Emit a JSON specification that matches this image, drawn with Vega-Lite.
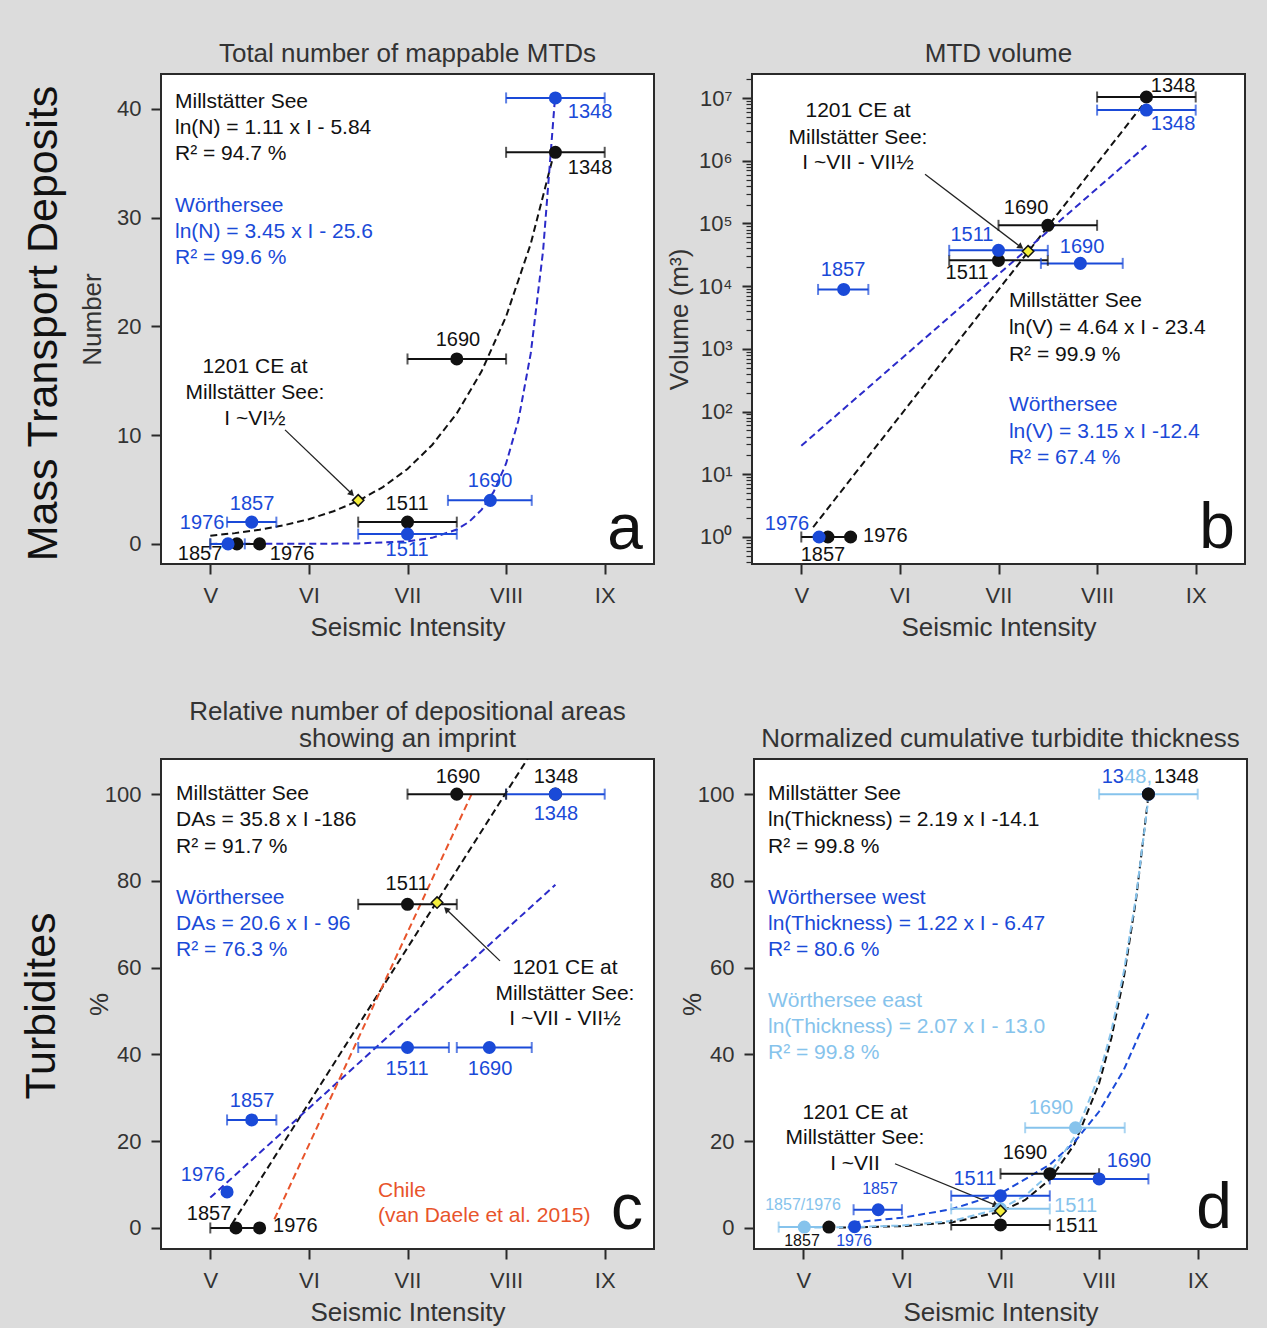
{
"$schema": "https://vega.github.io/schema/vega-lite/v6.json",
"background": "#dcdcdc",
"padding": {"left": 21, "top": 40, "right": 19, "bottom": 3},
"config": {
  "font": "Liberation Sans",
  "view": {"stroke": "#2a2a2a", "strokeWidth": 2, "fill": "#ffffff"},
  "axis": {"domain": false, "grid": false, "tickSize": 10, "tickWidth": 2, "tickColor": "#2a2a2a", "labelFontSize": 22, "labelColor": "#333333", "titleFontSize": 26, "titleFontWeight": "normal", "titleColor": "#333333", "labelFont": "Liberation Sans", "titleFont": "Liberation Sans"},
  "axisX": {"labelPadding": 11, "titlePadding": 8},
  "axisY": {"labelPadding": 10},
  "title": {"font": "Liberation Sans", "fontSize": 26, "fontWeight": "normal", "color": "#333333", "baseline": "bottom", "lineHeight": 27, "offset": 7}
},
"datasets": {
  "pts": [
    {"p":"a","s":"M","yr":"1348","I":8.5,"v":36,"lo":8,"hi":9},
    {"p":"a","s":"M","yr":"1690","I":7.5,"v":17,"lo":7,"hi":8},
    {"p":"a","s":"M","yr":"1511","I":7.0,"v":2,"lo":6.5,"hi":7.5},
    {"p":"a","s":"M","yr":"1857","I":5.27,"v":0,"lo":5.0,"hi":5.5},
    {"p":"a","s":"M","yr":"1976","I":5.5,"v":0},
    {"p":"a","s":"W","yr":"1348","I":8.5,"v":41,"lo":8,"hi":9},
    {"p":"a","s":"W","yr":"1690","I":7.84,"v":4,"lo":7.41,"hi":8.26},
    {"p":"a","s":"W","yr":"1511","I":7.0,"v":0.9,"lo":6.5,"hi":7.5},
    {"p":"a","s":"W","yr":"1857","I":5.42,"v":2,"lo":5.17,"hi":5.67},
    {"p":"a","s":"W","yr":"1976","I":5.18,"v":0,"lo":5.0,"hi":5.35},
    {"p":"b","s":"M","yr":"1348","I":8.5,"v":10400000,"lo":8,"hi":9},
    {"p":"b","s":"M","yr":"1690","I":7.5,"v":93500,"lo":7,"hi":8},
    {"p":"b","s":"M","yr":"1511","I":7.0,"v":25800,"lo":6.5,"hi":7.5},
    {"p":"b","s":"M","yr":"1857","I":5.27,"v":1,"lo":5.0,"hi":5.5},
    {"p":"b","s":"M","yr":"1976","I":5.5,"v":1},
    {"p":"b","s":"W","yr":"1348","I":8.5,"v":6430000,"lo":8,"hi":9},
    {"p":"b","s":"W","yr":"1690","I":7.83,"v":23100,"lo":7.43,"hi":8.26},
    {"p":"b","s":"W","yr":"1511","I":7.0,"v":37300,"lo":6.5,"hi":7.5},
    {"p":"b","s":"W","yr":"1857","I":5.43,"v":8870,"lo":5.17,"hi":5.68},
    {"p":"b","s":"W","yr":"1976","I":5.18,"v":1},
    {"p":"c","s":"M","yr":"1690","I":7.5,"v":100,"lo":7,"hi":8},
    {"p":"c","s":"M","yr":"1348","I":8.5,"v":100},
    {"p":"c","s":"M","yr":"1511","I":7.0,"v":74.6,"lo":6.5,"hi":7.5},
    {"p":"c","s":"M","yr":"1857","I":5.26,"v":0,"lo":5.0,"hi":5.5},
    {"p":"c","s":"M","yr":"1976","I":5.5,"v":0},
    {"p":"c","s":"W","yr":"1348","I":8.5,"v":100,"lo":8,"hi":9},
    {"p":"c","s":"W","yr":"1511","I":7.0,"v":41.6,"lo":6.5,"hi":7.42},
    {"p":"c","s":"W","yr":"1690","I":7.83,"v":41.6,"lo":7.5,"hi":8.26},
    {"p":"c","s":"W","yr":"1857","I":5.42,"v":24.9,"lo":5.17,"hi":5.67},
    {"p":"c","s":"W","yr":"1976","I":5.17,"v":8.3},
    {"p":"d","s":"E","yr":"1348","I":8.5,"v":100,"lo":8,"hi":9},
    {"p":"d","s":"E","yr":"1690","I":7.76,"v":23.1,"lo":7.25,"hi":8.26},
    {"p":"d","s":"E","yr":"1511","I":7.0,"v":4.4,"lo":6.5,"hi":7.5},
    {"p":"d","s":"E","yr":"1857/1976","I":5.01,"v":0.2,"lo":4.75,"hi":5.25},
    {"p":"d","s":"W","yr":"1348","I":8.5,"v":100},
    {"p":"d","s":"W","yr":"1690","I":8.0,"v":11.3,"lo":7.5,"hi":8.5},
    {"p":"d","s":"W","yr":"1511","I":7.0,"v":7.4,"lo":6.5,"hi":7.5},
    {"p":"d","s":"W","yr":"1857","I":5.76,"v":4.2,"lo":5.51,"hi":6.0},
    {"p":"d","s":"W","yr":"1976","I":5.52,"v":0.3},
    {"p":"d","s":"M","yr":"1348","I":8.5,"v":100},
    {"p":"d","s":"M","yr":"1690","I":7.5,"v":12.5,"lo":7,"hi":8},
    {"p":"d","s":"M","yr":"1511","I":7.0,"v":0.7,"lo":6.5,"hi":7.5},
    {"p":"d","s":"M","yr":"1857","I":5.26,"v":0.2}
  ],
  "fit": [
    {"p":"a","s":"M","I":5.0,"v":0.748},{"p":"a","s":"M","I":5.25,"v":0.988},{"p":"a","s":"M","I":5.5,"v":1.303},{"p":"a","s":"M","I":5.75,"v":1.72},{"p":"a","s":"M","I":6.0,"v":2.27},{"p":"a","s":"M","I":6.25,"v":2.997},{"p":"a","s":"M","I":6.5,"v":3.955},{"p":"a","s":"M","I":6.75,"v":5.22},{"p":"a","s":"M","I":7.0,"v":6.89},{"p":"a","s":"M","I":7.25,"v":9.093},{"p":"a","s":"M","I":7.5,"v":12.0},{"p":"a","s":"M","I":7.75,"v":15.84},{"p":"a","s":"M","I":8.0,"v":20.91},{"p":"a","s":"M","I":8.25,"v":27.59},{"p":"a","s":"M","I":8.5,"v":36.42},
    {"p":"a","s":"L","I":5.0,"v":0.0002},{"p":"a","s":"L","I":5.5,"v":0.0013},{"p":"a","s":"L","I":6.0,"v":0.0075},{"p":"a","s":"L","I":6.5,"v":0.042},{"p":"a","s":"L","I":7.0,"v":0.235},{"p":"a","s":"L","I":7.25,"v":0.556},{"p":"a","s":"L","I":7.5,"v":1.317},{"p":"a","s":"L","I":7.625,"v":2.03},{"p":"a","s":"L","I":7.75,"v":3.119},{"p":"a","s":"L","I":7.875,"v":4.8},{"p":"a","s":"L","I":8.0,"v":7.389},{"p":"a","s":"L","I":8.125,"v":11.37},{"p":"a","s":"L","I":8.25,"v":17.51},{"p":"a","s":"L","I":8.375,"v":26.94},{"p":"a","s":"L","I":8.5,"v":41.47},
    {"p":"b","s":"M","I":5.12,"v":1.43},{"p":"b","s":"M","I":8.5,"v":9230000},
    {"p":"b","s":"L","I":5.0,"v":28.5},{"p":"b","s":"L","I":8.5,"v":1750000},
    {"p":"c","s":"M","I":5.22,"v":0.9},{"p":"c","s":"M","I":8.3,"v":111.1},
    {"p":"c","s":"L","I":5.0,"v":7.0},{"p":"c","s":"L","I":8.5,"v":79.1},
    {"p":"c","s":"C","I":5.65,"v":2.0},{"p":"c","s":"C","I":7.65,"v":100},
    {"p":"d","s":"M","I":5.25,"v":0.08},{"p":"d","s":"M","I":5.5,"v":0.14},{"p":"d","s":"M","I":6.0,"v":0.42},{"p":"d","s":"M","I":6.5,"v":1.25},{"p":"d","s":"M","I":7.0,"v":3.73},{"p":"d","s":"M","I":7.25,"v":6.45},{"p":"d","s":"M","I":7.5,"v":11.15},{"p":"d","s":"M","I":7.75,"v":19.3},{"p":"d","s":"M","I":8.0,"v":33.3},{"p":"d","s":"M","I":8.125,"v":43.8},{"p":"d","s":"M","I":8.25,"v":57.6},{"p":"d","s":"M","I":8.375,"v":75.8},{"p":"d","s":"M","I":8.5,"v":99.6},
    {"p":"d","s":"W","I":5.5,"v":1.27},{"p":"d","s":"W","I":6.0,"v":2.34},{"p":"d","s":"W","I":6.5,"v":4.31},{"p":"d","s":"W","I":7.0,"v":7.93},{"p":"d","s":"W","I":7.5,"v":14.59},{"p":"d","s":"W","I":7.75,"v":19.79},{"p":"d","s":"W","I":8.0,"v":26.84},{"p":"d","s":"W","I":8.25,"v":36.42},{"p":"d","s":"W","I":8.5,"v":49.4},
    {"p":"d","s":"E","I":5.0,"v":0.07},{"p":"d","s":"E","I":5.5,"v":0.2},{"p":"d","s":"E","I":6.0,"v":0.56},{"p":"d","s":"E","I":6.5,"v":1.58},{"p":"d","s":"E","I":7.0,"v":4.44},{"p":"d","s":"E","I":7.25,"v":7.44},{"p":"d","s":"E","I":7.5,"v":12.49},{"p":"d","s":"E","I":7.75,"v":20.96},{"p":"d","s":"E","I":8.0,"v":35.16},{"p":"d","s":"E","I":8.125,"v":45.5},{"p":"d","s":"E","I":8.25,"v":59.0},{"p":"d","s":"E","I":8.375,"v":76.4},{"p":"d","s":"E","I":8.5,"v":99.0}
  ],
  "dia": [
    {"p":"a","I":6.5,"v":4.0},
    {"p":"b","I":7.3,"v":36000},
    {"p":"c","I":7.3,"v":75},
    {"p":"d","I":7.0,"v":3.9}
  ],
  "arr": [
    {"p":"a","I":5.758,"v":10.48,"I2":6.427,"v2":4.67},
    {"p":"b","I":6.255,"v":610000,"I2":7.218,"v2":43100},
    {"p":"c","I":7.938,"v":61.56,"I2":7.401,"v2":73.3},
    {"p":"d","I":5.93,"v":14.8,"I2":6.944,"v2":5.33}
  ],
  "txt": [
    {"p":"a","k":"eq","s":"M","t":"Millstätter See","I":4.642,"v":40.62},
    {"p":"a","k":"eq","s":"M","t":"ln(N) = 1.11 x I - 5.84","I":4.642,"v":38.22},
    {"p":"a","k":"eq","s":"M","t":"R² = 94.7 %","I":4.642,"v":35.83},
    {"p":"a","k":"eq","s":"W","t":"Wörthersee","I":4.642,"v":31.03},
    {"p":"a","k":"eq","s":"W","t":"ln(N) = 3.45 x I - 25.6","I":4.642,"v":28.64},
    {"p":"a","k":"eq","s":"W","t":"R² = 99.6 %","I":4.642,"v":26.24},
    {"p":"a","k":"yr","s":"M","t":"1348","I":8.851,"v":34.54},
    {"p":"a","k":"yr","s":"W","t":"1348","I":8.851,"v":39.7},
    {"p":"a","k":"yr","s":"M","t":"1690","I":7.512,"v":18.78},
    {"p":"a","k":"yr","s":"M","t":"1511","I":6.995,"v":3.66},
    {"p":"a","k":"yr","s":"W","t":"1690","I":7.837,"v":5.78},
    {"p":"a","k":"yr","s":"W","t":"1511","I":6.995,"v":-0.58},
    {"p":"a","k":"yr","s":"W","t":"1857","I":5.423,"v":3.66},
    {"p":"a","k":"yr","s":"W","t":"1976","I":4.916,"v":1.91},
    {"p":"a","k":"yr","s":"M","t":"1857","I":4.896,"v":-0.95},
    {"p":"a","k":"yr","s":"M","t":"1976","I":5.829,"v":-0.95},
    {"p":"a","k":"ann","s":"M","t":"1201 CE at","I":5.453,"v":16.29},
    {"p":"a","k":"ann","s":"M","t":"Millstätter See:","I":5.453,"v":13.89},
    {"p":"a","k":"ann","s":"M","t":"I ~VI½","I":5.453,"v":11.5},
    {"p":"a","k":"let","s":"M","t":"a","I":9.206,"v":-0.49},
    {"p":"b","k":"ann","s":"M","t":"1201 CE at","I":5.575,"v":6190000},
    {"p":"b","k":"ann","s":"M","t":"Millstätter See:","I":5.575,"v":2300000},
    {"p":"b","k":"ann","s":"M","t":"I ~VII - VII½","I":5.575,"v":914000},
    {"p":"b","k":"eq","s":"M","t":"Millstätter See","I":7.106,"v":5715},
    {"p":"b","k":"eq","s":"M","t":"ln(V) = 4.64 x I - 23.4","I":7.106,"v":2118},
    {"p":"b","k":"eq","s":"M","t":"R² = 99.9 %","I":7.106,"v":813},
    {"p":"b","k":"eq","s":"W","t":"Wörthersee","I":7.106,"v":129},
    {"p":"b","k":"eq","s":"W","t":"ln(V) = 3.15 x I -12.4","I":7.106,"v":47.9},
    {"p":"b","k":"eq","s":"W","t":"R² = 67.4 %","I":7.106,"v":18.4},
    {"p":"b","k":"yr","s":"M","t":"1348","I":8.77,"v":15500000},
    {"p":"b","k":"yr","s":"W","t":"1348","I":8.77,"v":3840000},
    {"p":"b","k":"yr","s":"M","t":"1690","I":7.279,"v":175000},
    {"p":"b","k":"yr","s":"W","t":"1511","I":6.731,"v":64700},
    {"p":"b","k":"yr","s":"W","t":"1690","I":7.847,"v":41700},
    {"p":"b","k":"yr","s":"M","t":"1511","I":6.681,"v":16000},
    {"p":"b","k":"yr","s":"W","t":"1857","I":5.423,"v":17900},
    {"p":"b","k":"yr","s":"W","t":"1976","I":4.855,"v":1.62},
    {"p":"b","k":"yrL","s":"M","t":"1976","I":5.626,"v":1.04},
    {"p":"b","k":"yr","s":"M","t":"1857","I":5.22,"v":0.519},
    {"p":"b","k":"let","s":"M","t":"b","I":9.216,"v":0.671},
    {"p":"c","k":"eq","s":"M","t":"Millstätter See","I":4.652,"v":100.04},
    {"p":"c","k":"eq","s":"M","t":"DAs = 35.8 x I -186","I":4.652,"v":94.04},
    {"p":"c","k":"eq","s":"M","t":"R² = 91.7 %","I":4.652,"v":87.82},
    {"p":"c","k":"eq","s":"W","t":"Wörthersee","I":4.652,"v":76.07},
    {"p":"c","k":"eq","s":"W","t":"DAs = 20.6 x I - 96","I":4.652,"v":70.08},
    {"p":"c","k":"eq","s":"W","t":"R² = 76.3 %","I":4.652,"v":64.09},
    {"p":"c","k":"eq","s":"C","t":"Chile","I":6.701,"v":8.56},
    {"p":"c","k":"eq","s":"C","t":"(van Daele et al. 2015)","I":6.701,"v":2.8},
    {"p":"c","k":"ann","s":"M","t":"1201 CE at","I":8.597,"v":59.94},
    {"p":"c","k":"ann","s":"M","t":"Millstätter See:","I":8.597,"v":53.95},
    {"p":"c","k":"ann","s":"M","t":"I ~VII - VII½","I":8.597,"v":48.19},
    {"p":"c","k":"yr","s":"M","t":"1690","I":7.512,"v":103.95},
    {"p":"c","k":"yr","s":"M","t":"1348","I":8.506,"v":103.95},
    {"p":"c","k":"yr","s":"W","t":"1348","I":8.506,"v":95.43},
    {"p":"c","k":"yr","s":"M","t":"1511","I":6.995,"v":79.3},
    {"p":"c","k":"yr","s":"W","t":"1511","I":6.995,"v":36.67},
    {"p":"c","k":"yr","s":"W","t":"1690","I":7.837,"v":36.67},
    {"p":"c","k":"yr","s":"W","t":"1857","I":5.423,"v":29.3},
    {"p":"c","k":"yr","s":"W","t":"1976","I":4.926,"v":12.25},
    {"p":"c","k":"yr","s":"M","t":"1857","I":4.987,"v":3.3},
    {"p":"c","k":"yrL","s":"M","t":"1976","I":5.636,"v":0.5},
    {"p":"c","k":"let","s":"M","t":"c","I":9.226,"v":-0.19},
    {"p":"d","k":"eq","s":"M","t":"Millstätter See","I":4.642,"v":100.04},
    {"p":"d","k":"eq","s":"M","t":"ln(Thickness) = 2.19 x I -14.1","I":4.642,"v":94.04},
    {"p":"d","k":"eq","s":"M","t":"R² = 99.8 %","I":4.642,"v":87.82},
    {"p":"d","k":"eq","s":"W","t":"Wörthersee west","I":4.642,"v":76.07},
    {"p":"d","k":"eq","s":"W","t":"ln(Thickness) = 1.22 x I - 6.47","I":4.642,"v":70.08},
    {"p":"d","k":"eq","s":"W","t":"R² = 80.6 %","I":4.642,"v":64.09},
    {"p":"d","k":"eq","s":"E","t":"Wörthersee east","I":4.642,"v":52.34},
    {"p":"d","k":"eq","s":"E","t":"ln(Thickness) = 2.07 x I - 13.0","I":4.642,"v":46.35},
    {"p":"d","k":"eq","s":"E","t":"R² = 99.8 %","I":4.642,"v":40.36},
    {"p":"d","k":"ann","s":"M","t":"1201 CE at","I":5.524,"v":26.53},
    {"p":"d","k":"ann","s":"M","t":"Millstätter See:","I":5.524,"v":20.77},
    {"p":"d","k":"ann","s":"M","t":"I ~VII","I":5.524,"v":14.8},
    {"p":"d","k":"yrR","s":"W","t":"13","I":8.2525,"v":103.95},
    {"p":"d","k":"yrR","s":"E","t":"48,","I":8.5365,"v":103.95},
    {"p":"d","k":"yrL","s":"M","t":"1348","I":8.557,"v":103.95},
    {"p":"d","k":"yr","s":"E","t":"1690","I":7.512,"v":27.69},
    {"p":"d","k":"yr","s":"M","t":"1690","I":7.248,"v":17.32},
    {"p":"d","k":"yr","s":"W","t":"1690","I":8.303,"v":15.48},
    {"p":"d","k":"yr","s":"W","t":"1511","I":6.741,"v":11.33},
    {"p":"d","k":"yrL","s":"E","t":"1511","I":7.543,"v":5.1},
    {"p":"d","k":"yrL","s":"M","t":"1511","I":7.553,"v":0.49},
    {"p":"d","k":"sm","s":"W","t":"1857","I":5.778,"v":8.87},
    {"p":"d","k":"sm","s":"E","t":"1857/1976","I":4.997,"v":5.18},
    {"p":"d","k":"sm","s":"M","t":"1857","I":4.987,"v":-2.96},
    {"p":"d","k":"sm","s":"W","t":"1976","I":5.514,"v":-2.96},
    {"p":"d","k":"let","s":"M","t":"d","I":9.165,"v":-0.04}
  ]
},
"spacing": 57,
"vconcat": [
  {
    "title": {"text": "Mass Transport Deposits", "orient": "left", "anchor": "middle", "fontSize": 43, "color": "#111111", "offset": -30, "baseline": "bottom", "dx": 17},
    "spacing": 10,
    "hconcat": [
      {
        "width": 493, "height": 490,
        "title": {"text": "Total number of mappable MTDs"},
        "encoding": {
          "x": {"field": "I", "type": "quantitative", "scale": {"domain": [4.5, 9.5], "nice": false, "zero": false}, "axis": {"title": "Seismic Intensity", "values": [5,6,7,8,9], "labelExpr": "['','','','','','V','VI','VII','VIII','IX'][datum.value]"}},
          "y": {"field": "v", "type": "quantitative", "scale": {"domain": [-1.85, 43.2], "nice": false, "zero": false}, "axis": {"title": "Number", "values": [0,10,20,30,40], "titlePadding": 11}}
        },
        "layer": [
          {"data": {"name": "fit"}, "transform": [{"filter": "datum.p=='a'"}], "mark": {"type": "line", "strokeDash": [7,4], "strokeWidth": 2, "clip": true}, "encoding": {"color": {"field": "s", "type": "nominal", "scale": {"domain": ["M","W","E","C","L"], "range": ["#111111","#1a4ad8","#86c3ec","#e8542b","#2b2bc9"]}, "legend": null}, "detail": {"field": "s"}}},
          {"data": {"name": "arr"}, "transform": [{"filter": "datum.p=='a'"}], "mark": {"type": "rule", "color": "#222222", "strokeWidth": 1.3}, "encoding": {"x2": {"field": "I2"}, "y2": {"field": "v2"}}},
          {"data": {"name": "arr"}, "transform": [{"filter": "datum.p=='a'"}], "mark": {"type": "point", "shape": "triangle", "filled": true, "color": "#222222", "size": 50, "angle": 134, "opacity": 1}, "encoding": {"x": {"field": "I2", "type": "quantitative", "title": "Seismic Intensity"}, "y": {"field": "v2", "type": "quantitative", "title": "Number"}}},
          {"data": {"name": "pts"}, "transform": [{"filter": "datum.p=='a' && isValid(datum.lo)"}], "mark": {"type": "rule", "strokeWidth": 2}, "encoding": {"x": {"field": "lo", "type": "quantitative", "title": "Seismic Intensity"}, "x2": {"field": "hi"}, "color": {"field": "s", "type": "nominal", "scale": {"domain": ["M","W","E","C","L"], "range": ["#111111","#1a4ad8","#86c3ec","#e8542b","#2b2bc9"]}, "legend": null}}},
          {"data": {"name": "pts"}, "transform": [{"filter": "datum.p=='a' && isValid(datum.lo)"}], "mark": {"type": "tick", "orient": "vertical", "size": 11, "thickness": 2}, "encoding": {"x": {"field": "lo", "type": "quantitative", "title": "Seismic Intensity"}, "color": {"field": "s", "type": "nominal", "scale": {"domain": ["M","W","E","C","L"], "range": ["#111111","#1a4ad8","#86c3ec","#e8542b","#2b2bc9"]}, "legend": null}}},
          {"data": {"name": "pts"}, "transform": [{"filter": "datum.p=='a' && isValid(datum.hi)"}], "mark": {"type": "tick", "orient": "vertical", "size": 11, "thickness": 2}, "encoding": {"x": {"field": "hi", "type": "quantitative", "title": "Seismic Intensity"}, "color": {"field": "s", "type": "nominal", "scale": {"domain": ["M","W","E","C","L"], "range": ["#111111","#1a4ad8","#86c3ec","#e8542b","#2b2bc9"]}, "legend": null}}},
          {"data": {"name": "pts"}, "transform": [{"filter": "datum.p=='a'"}], "mark": {"type": "circle", "size": 170, "opacity": 1}, "encoding": {"color": {"field": "s", "type": "nominal", "scale": {"domain": ["M","W","E","C","L"], "range": ["#111111","#1a4ad8","#86c3ec","#e8542b","#2b2bc9"]}, "legend": null}}},
          {"data": {"name": "dia"}, "transform": [{"filter": "datum.p=='a'"}], "mark": {"type": "point", "shape": "diamond", "filled": true, "fill": "#f5ef3b", "stroke": "#111111", "strokeWidth": 1.5, "size": 130, "opacity": 1}},
          {"data": {"name": "txt"}, "transform": [{"filter": "datum.p=='a' && datum.k=='eq'"}], "mark": {"type": "text", "align": "left", "baseline": "middle", "fontSize": 21}, "encoding": {"text": {"field": "t"}, "color": {"field": "s", "type": "nominal", "scale": {"domain": ["M","W","E","C","L"], "range": ["#111111","#1a4ad8","#86c3ec","#e8542b","#2b2bc9"]}, "legend": null}}},
          {"data": {"name": "txt"}, "transform": [{"filter": "datum.p=='a' && datum.k=='yr'"}], "mark": {"type": "text", "align": "center", "baseline": "middle", "fontSize": 20}, "encoding": {"text": {"field": "t"}, "color": {"field": "s", "type": "nominal", "scale": {"domain": ["M","W","E","C","L"], "range": ["#111111","#1a4ad8","#86c3ec","#e8542b","#2b2bc9"]}, "legend": null}}},
          {"data": {"name": "txt"}, "transform": [{"filter": "datum.p=='a' && datum.k=='ann'"}], "mark": {"type": "text", "align": "center", "baseline": "middle", "fontSize": 21, "color": "#111111"}, "encoding": {"text": {"field": "t"}}},
          {"data": {"name": "txt"}, "transform": [{"filter": "datum.p=='a' && datum.k=='let'"}], "mark": {"type": "text", "align": "center", "baseline": "alphabetic", "fontSize": 64, "color": "#111111"}, "encoding": {"text": {"field": "t"}}}
        ]
      },
      {
        "width": 493, "height": 490,
        "title": {"text": "MTD volume"},
        "encoding": {
          "x": {"field": "I", "type": "quantitative", "scale": {"domain": [4.5, 9.5], "nice": false, "zero": false}, "axis": {"title": "Seismic Intensity", "values": [5,6,7,8,9], "labelExpr": "['','','','','','V','VI','VII','VIII','IX'][datum.value]"}},
          "y": {"field": "v", "type": "quantitative", "scale": {"type": "log", "domain": [0.371, 24200000], "nice": false}, "axis": {"title": "Volume (m³)", "titlePadding": 6, "values": [0.4,0.5,0.6,0.7,0.8,0.9,1,2,3,4,5,6,7,8,9,10,20,30,40,50,60,70,80,90,100,200,300,400,500,600,700,800,900,1000,2000,3000,4000,5000,6000,7000,8000,9000,10000,20000,30000,40000,50000,60000,70000,80000,90000,100000,200000,300000,400000,500000,600000,700000,800000,900000,1000000,2000000,3000000,4000000,5000000,6000000,7000000,8000000,9000000,10000000,20000000], "labelExpr": "abs(log(datum.value)/LN10 - round(log(datum.value)/LN10)) < 0.001 ? '10' + ['⁰','¹','²','³','⁴','⁵','⁶','⁷'][round(log(datum.value)/LN10)] : ''", "tickSize": {"condition": {"test": "abs(log(datum.value)/LN10 - round(log(datum.value)/LN10)) < 0.001", "value": 10}, "value": 6}, "tickWidth": {"condition": {"test": "abs(log(datum.value)/LN10 - round(log(datum.value)/LN10)) < 0.001", "value": 2}, "value": 1.2}}}
        },
        "layer": [
          {"data": {"name": "fit"}, "transform": [{"filter": "datum.p=='b'"}], "mark": {"type": "line", "strokeDash": [7,4], "strokeWidth": 2, "clip": true}, "encoding": {"color": {"field": "s", "type": "nominal", "scale": {"domain": ["M","W","E","C","L"], "range": ["#111111","#1a4ad8","#86c3ec","#e8542b","#2b2bc9"]}, "legend": null}, "detail": {"field": "s"}}},
          {"data": {"name": "arr"}, "transform": [{"filter": "datum.p=='b'"}], "mark": {"type": "rule", "color": "#222222", "strokeWidth": 1.3}, "encoding": {"x2": {"field": "I2"}, "y2": {"field": "v2"}}},
          {"data": {"name": "arr"}, "transform": [{"filter": "datum.p=='b'"}], "mark": {"type": "point", "shape": "triangle", "filled": true, "color": "#222222", "size": 50, "angle": 127, "opacity": 1}, "encoding": {"x": {"field": "I2", "type": "quantitative", "title": "Seismic Intensity"}, "y": {"field": "v2", "type": "quantitative", "title": "Volume (m³)"}}},
          {"data": {"name": "pts"}, "transform": [{"filter": "datum.p=='b' && isValid(datum.lo)"}], "mark": {"type": "rule", "strokeWidth": 2}, "encoding": {"x": {"field": "lo", "type": "quantitative", "title": "Seismic Intensity"}, "x2": {"field": "hi"}, "color": {"field": "s", "type": "nominal", "scale": {"domain": ["M","W","E","C","L"], "range": ["#111111","#1a4ad8","#86c3ec","#e8542b","#2b2bc9"]}, "legend": null}}},
          {"data": {"name": "pts"}, "transform": [{"filter": "datum.p=='b' && isValid(datum.lo)"}], "mark": {"type": "tick", "orient": "vertical", "size": 11, "thickness": 2}, "encoding": {"x": {"field": "lo", "type": "quantitative", "title": "Seismic Intensity"}, "color": {"field": "s", "type": "nominal", "scale": {"domain": ["M","W","E","C","L"], "range": ["#111111","#1a4ad8","#86c3ec","#e8542b","#2b2bc9"]}, "legend": null}}},
          {"data": {"name": "pts"}, "transform": [{"filter": "datum.p=='b' && isValid(datum.hi)"}], "mark": {"type": "tick", "orient": "vertical", "size": 11, "thickness": 2}, "encoding": {"x": {"field": "hi", "type": "quantitative", "title": "Seismic Intensity"}, "color": {"field": "s", "type": "nominal", "scale": {"domain": ["M","W","E","C","L"], "range": ["#111111","#1a4ad8","#86c3ec","#e8542b","#2b2bc9"]}, "legend": null}}},
          {"data": {"name": "pts"}, "transform": [{"filter": "datum.p=='b'"}], "mark": {"type": "circle", "size": 170, "opacity": 1}, "encoding": {"color": {"field": "s", "type": "nominal", "scale": {"domain": ["M","W","E","C","L"], "range": ["#111111","#1a4ad8","#86c3ec","#e8542b","#2b2bc9"]}, "legend": null}}},
          {"data": {"name": "dia"}, "transform": [{"filter": "datum.p=='b'"}], "mark": {"type": "point", "shape": "diamond", "filled": true, "fill": "#f5ef3b", "stroke": "#111111", "strokeWidth": 1.5, "size": 130, "opacity": 1}},
          {"data": {"name": "txt"}, "transform": [{"filter": "datum.p=='b' && datum.k=='eq'"}], "mark": {"type": "text", "align": "left", "baseline": "middle", "fontSize": 21}, "encoding": {"text": {"field": "t"}, "color": {"field": "s", "type": "nominal", "scale": {"domain": ["M","W","E","C","L"], "range": ["#111111","#1a4ad8","#86c3ec","#e8542b","#2b2bc9"]}, "legend": null}}},
          {"data": {"name": "txt"}, "transform": [{"filter": "datum.p=='b' && datum.k=='yr'"}], "mark": {"type": "text", "align": "center", "baseline": "middle", "fontSize": 20}, "encoding": {"text": {"field": "t"}, "color": {"field": "s", "type": "nominal", "scale": {"domain": ["M","W","E","C","L"], "range": ["#111111","#1a4ad8","#86c3ec","#e8542b","#2b2bc9"]}, "legend": null}}},
          {"data": {"name": "txt"}, "transform": [{"filter": "datum.p=='b' && datum.k=='yrL'"}], "mark": {"type": "text", "align": "left", "baseline": "middle", "fontSize": 20}, "encoding": {"text": {"field": "t"}, "color": {"field": "s", "type": "nominal", "scale": {"domain": ["M","W","E","C","L"], "range": ["#111111","#1a4ad8","#86c3ec","#e8542b","#2b2bc9"]}, "legend": null}}},
          {"data": {"name": "txt"}, "transform": [{"filter": "datum.p=='b' && datum.k=='ann'"}], "mark": {"type": "text", "align": "center", "baseline": "middle", "fontSize": 21, "color": "#111111"}, "encoding": {"text": {"field": "t"}}},
          {"data": {"name": "txt"}, "transform": [{"filter": "datum.p=='b' && datum.k=='let'"}], "mark": {"type": "text", "align": "center", "baseline": "alphabetic", "fontSize": 64, "color": "#111111"}, "encoding": {"text": {"field": "t"}}}
        ]
      }
    ]
  },
  {
    "title": {"text": "Turbidites", "orient": "left", "anchor": "middle", "fontSize": 43, "color": "#111111", "offset": -22, "baseline": "bottom", "dx": 6},
    "spacing": 23,
    "hconcat": [
      {
        "width": 493, "height": 490,
        "title": {"text": ["Relative number of depositional areas", "showing an imprint"]},
        "encoding": {
          "x": {"field": "I", "type": "quantitative", "scale": {"domain": [4.5, 9.5], "nice": false, "zero": false}, "axis": {"title": "Seismic Intensity", "values": [5,6,7,8,9], "labelExpr": "['','','','','','V','VI','VII','VIII','IX'][datum.value]"}},
          "y": {"field": "v", "type": "quantitative", "scale": {"domain": [-4.85, 108.1], "nice": false, "zero": false}, "axis": {"title": "%", "values": [0,20,40,60,80,100], "titlePadding": -8}}
        },
        "layer": [
          {"data": {"name": "fit"}, "transform": [{"filter": "datum.p=='c'"}], "mark": {"type": "line", "strokeDash": [7,4], "strokeWidth": 2, "clip": true}, "encoding": {"color": {"field": "s", "type": "nominal", "scale": {"domain": ["M","W","E","C","L"], "range": ["#111111","#1a4ad8","#86c3ec","#e8542b","#2b2bc9"]}, "legend": null}, "detail": {"field": "s"}}},
          {"data": {"name": "arr"}, "transform": [{"filter": "datum.p=='c'"}], "mark": {"type": "rule", "color": "#222222", "strokeWidth": 1.3}, "encoding": {"x2": {"field": "I2"}, "y2": {"field": "v2"}}},
          {"data": {"name": "arr"}, "transform": [{"filter": "datum.p=='c'"}], "mark": {"type": "point", "shape": "triangle", "filled": true, "color": "#222222", "size": 50, "angle": 314, "opacity": 1}, "encoding": {"x": {"field": "I2", "type": "quantitative", "title": "Seismic Intensity"}, "y": {"field": "v2", "type": "quantitative", "title": "%"}}},
          {"data": {"name": "pts"}, "transform": [{"filter": "datum.p=='c' && isValid(datum.lo)"}], "mark": {"type": "rule", "strokeWidth": 2}, "encoding": {"x": {"field": "lo", "type": "quantitative", "title": "Seismic Intensity"}, "x2": {"field": "hi"}, "color": {"field": "s", "type": "nominal", "scale": {"domain": ["M","W","E","C","L"], "range": ["#111111","#1a4ad8","#86c3ec","#e8542b","#2b2bc9"]}, "legend": null}}},
          {"data": {"name": "pts"}, "transform": [{"filter": "datum.p=='c' && isValid(datum.lo)"}], "mark": {"type": "tick", "orient": "vertical", "size": 11, "thickness": 2}, "encoding": {"x": {"field": "lo", "type": "quantitative", "title": "Seismic Intensity"}, "color": {"field": "s", "type": "nominal", "scale": {"domain": ["M","W","E","C","L"], "range": ["#111111","#1a4ad8","#86c3ec","#e8542b","#2b2bc9"]}, "legend": null}}},
          {"data": {"name": "pts"}, "transform": [{"filter": "datum.p=='c' && isValid(datum.hi)"}], "mark": {"type": "tick", "orient": "vertical", "size": 11, "thickness": 2}, "encoding": {"x": {"field": "hi", "type": "quantitative", "title": "Seismic Intensity"}, "color": {"field": "s", "type": "nominal", "scale": {"domain": ["M","W","E","C","L"], "range": ["#111111","#1a4ad8","#86c3ec","#e8542b","#2b2bc9"]}, "legend": null}}},
          {"data": {"name": "pts"}, "transform": [{"filter": "datum.p=='c'"}], "mark": {"type": "circle", "size": 170, "opacity": 1}, "encoding": {"color": {"field": "s", "type": "nominal", "scale": {"domain": ["M","W","E","C","L"], "range": ["#111111","#1a4ad8","#86c3ec","#e8542b","#2b2bc9"]}, "legend": null}}},
          {"data": {"name": "dia"}, "transform": [{"filter": "datum.p=='c'"}], "mark": {"type": "point", "shape": "diamond", "filled": true, "fill": "#f5ef3b", "stroke": "#111111", "strokeWidth": 1.5, "size": 130, "opacity": 1}},
          {"data": {"name": "txt"}, "transform": [{"filter": "datum.p=='c' && datum.k=='eq'"}], "mark": {"type": "text", "align": "left", "baseline": "middle", "fontSize": 21}, "encoding": {"text": {"field": "t"}, "color": {"field": "s", "type": "nominal", "scale": {"domain": ["M","W","E","C","L"], "range": ["#111111","#1a4ad8","#86c3ec","#e8542b","#2b2bc9"]}, "legend": null}}},
          {"data": {"name": "txt"}, "transform": [{"filter": "datum.p=='c' && datum.k=='yr'"}], "mark": {"type": "text", "align": "center", "baseline": "middle", "fontSize": 20}, "encoding": {"text": {"field": "t"}, "color": {"field": "s", "type": "nominal", "scale": {"domain": ["M","W","E","C","L"], "range": ["#111111","#1a4ad8","#86c3ec","#e8542b","#2b2bc9"]}, "legend": null}}},
          {"data": {"name": "txt"}, "transform": [{"filter": "datum.p=='c' && datum.k=='yrL'"}], "mark": {"type": "text", "align": "left", "baseline": "middle", "fontSize": 20}, "encoding": {"text": {"field": "t"}, "color": {"field": "s", "type": "nominal", "scale": {"domain": ["M","W","E","C","L"], "range": ["#111111","#1a4ad8","#86c3ec","#e8542b","#2b2bc9"]}, "legend": null}}},
          {"data": {"name": "txt"}, "transform": [{"filter": "datum.p=='c' && datum.k=='ann'"}], "mark": {"type": "text", "align": "center", "baseline": "middle", "fontSize": 21, "color": "#111111"}, "encoding": {"text": {"field": "t"}}},
          {"data": {"name": "txt"}, "transform": [{"filter": "datum.p=='c' && datum.k=='let'"}], "mark": {"type": "text", "align": "center", "baseline": "alphabetic", "fontSize": 64, "color": "#111111"}, "encoding": {"text": {"field": "t"}}}
        ]
      },
      {
        "width": 493, "height": 490,
        "title": {"text": [" ", "Normalized cumulative turbidite thickness"]},
        "encoding": {
          "x": {"field": "I", "type": "quantitative", "scale": {"domain": [4.5, 9.5], "nice": false, "zero": false}, "axis": {"title": "Seismic Intensity", "values": [5,6,7,8,9], "labelExpr": "['','','','','','V','VI','VII','VIII','IX'][datum.value]"}},
          "y": {"field": "v", "type": "quantitative", "scale": {"domain": [-4.85, 108.1], "nice": false, "zero": false}, "axis": {"title": "%", "values": [0,20,40,60,80,100], "titlePadding": -8}}
        },
        "layer": [
          {"data": {"name": "fit"}, "transform": [{"filter": "datum.p=='d'"}], "mark": {"type": "line", "strokeDash": [7,4], "strokeWidth": 2, "clip": true}, "encoding": {"color": {"field": "s", "type": "nominal", "scale": {"domain": ["M","W","E","C","L"], "range": ["#111111","#1a4ad8","#86c3ec","#e8542b","#2b2bc9"]}, "legend": null}, "detail": {"field": "s"}}},
          {"data": {"name": "arr"}, "transform": [{"filter": "datum.p=='d'"}], "mark": {"type": "rule", "color": "#222222", "strokeWidth": 1.3}, "encoding": {"x2": {"field": "I2"}, "y2": {"field": "v2"}}},
          {"data": {"name": "arr"}, "transform": [{"filter": "datum.p=='d'"}], "mark": {"type": "point", "shape": "triangle", "filled": true, "color": "#222222", "size": 50, "angle": 112, "opacity": 1}, "encoding": {"x": {"field": "I2", "type": "quantitative", "title": "Seismic Intensity"}, "y": {"field": "v2", "type": "quantitative", "title": "%"}}},
          {"data": {"name": "pts"}, "transform": [{"filter": "datum.p=='d' && isValid(datum.lo)"}], "mark": {"type": "rule", "strokeWidth": 2}, "encoding": {"x": {"field": "lo", "type": "quantitative", "title": "Seismic Intensity"}, "x2": {"field": "hi"}, "color": {"field": "s", "type": "nominal", "scale": {"domain": ["M","W","E","C","L"], "range": ["#111111","#1a4ad8","#86c3ec","#e8542b","#2b2bc9"]}, "legend": null}}},
          {"data": {"name": "pts"}, "transform": [{"filter": "datum.p=='d' && isValid(datum.lo)"}], "mark": {"type": "tick", "orient": "vertical", "size": 11, "thickness": 2}, "encoding": {"x": {"field": "lo", "type": "quantitative", "title": "Seismic Intensity"}, "color": {"field": "s", "type": "nominal", "scale": {"domain": ["M","W","E","C","L"], "range": ["#111111","#1a4ad8","#86c3ec","#e8542b","#2b2bc9"]}, "legend": null}}},
          {"data": {"name": "pts"}, "transform": [{"filter": "datum.p=='d' && isValid(datum.hi)"}], "mark": {"type": "tick", "orient": "vertical", "size": 11, "thickness": 2}, "encoding": {"x": {"field": "hi", "type": "quantitative", "title": "Seismic Intensity"}, "color": {"field": "s", "type": "nominal", "scale": {"domain": ["M","W","E","C","L"], "range": ["#111111","#1a4ad8","#86c3ec","#e8542b","#2b2bc9"]}, "legend": null}}},
          {"data": {"name": "pts"}, "transform": [{"filter": "datum.p=='d'"}], "mark": {"type": "circle", "size": 170, "opacity": 1}, "encoding": {"color": {"field": "s", "type": "nominal", "scale": {"domain": ["M","W","E","C","L"], "range": ["#111111","#1a4ad8","#86c3ec","#e8542b","#2b2bc9"]}, "legend": null}}},
          {"data": {"name": "dia"}, "transform": [{"filter": "datum.p=='d'"}], "mark": {"type": "point", "shape": "diamond", "filled": true, "fill": "#f5ef3b", "stroke": "#111111", "strokeWidth": 1.5, "size": 130, "opacity": 1}},
          {"data": {"name": "txt"}, "transform": [{"filter": "datum.p=='d' && datum.k=='eq'"}], "mark": {"type": "text", "align": "left", "baseline": "middle", "fontSize": 21}, "encoding": {"text": {"field": "t"}, "color": {"field": "s", "type": "nominal", "scale": {"domain": ["M","W","E","C","L"], "range": ["#111111","#1a4ad8","#86c3ec","#e8542b","#2b2bc9"]}, "legend": null}}},
          {"data": {"name": "txt"}, "transform": [{"filter": "datum.p=='d' && datum.k=='yr'"}], "mark": {"type": "text", "align": "center", "baseline": "middle", "fontSize": 20}, "encoding": {"text": {"field": "t"}, "color": {"field": "s", "type": "nominal", "scale": {"domain": ["M","W","E","C","L"], "range": ["#111111","#1a4ad8","#86c3ec","#e8542b","#2b2bc9"]}, "legend": null}}},
          {"data": {"name": "txt"}, "transform": [{"filter": "datum.p=='d' && datum.k=='yrL'"}], "mark": {"type": "text", "align": "left", "baseline": "middle", "fontSize": 20}, "encoding": {"text": {"field": "t"}, "color": {"field": "s", "type": "nominal", "scale": {"domain": ["M","W","E","C","L"], "range": ["#111111","#1a4ad8","#86c3ec","#e8542b","#2b2bc9"]}, "legend": null}}},
          {"data": {"name": "txt"}, "transform": [{"filter": "datum.p=='d' && datum.k=='yrR'"}], "mark": {"type": "text", "align": "right", "baseline": "middle", "fontSize": 20}, "encoding": {"text": {"field": "t"}, "color": {"field": "s", "type": "nominal", "scale": {"domain": ["M","W","E","C","L"], "range": ["#111111","#1a4ad8","#86c3ec","#e8542b","#2b2bc9"]}, "legend": null}}},
          {"data": {"name": "txt"}, "transform": [{"filter": "datum.p=='d' && datum.k=='sm'"}], "mark": {"type": "text", "align": "center", "baseline": "middle", "fontSize": 16}, "encoding": {"text": {"field": "t"}, "color": {"field": "s", "type": "nominal", "scale": {"domain": ["M","W","E","C","L"], "range": ["#111111","#1a4ad8","#86c3ec","#e8542b","#2b2bc9"]}, "legend": null}}},
          {"data": {"name": "txt"}, "transform": [{"filter": "datum.p=='d' && datum.k=='ann'"}], "mark": {"type": "text", "align": "center", "baseline": "middle", "fontSize": 21, "color": "#111111"}, "encoding": {"text": {"field": "t"}}},
          {"data": {"name": "txt"}, "transform": [{"filter": "datum.p=='d' && datum.k=='let'"}], "mark": {"type": "text", "align": "center", "baseline": "alphabetic", "fontSize": 64, "color": "#111111"}, "encoding": {"text": {"field": "t"}}}
        ]
      }
    ]
  }
]
}
